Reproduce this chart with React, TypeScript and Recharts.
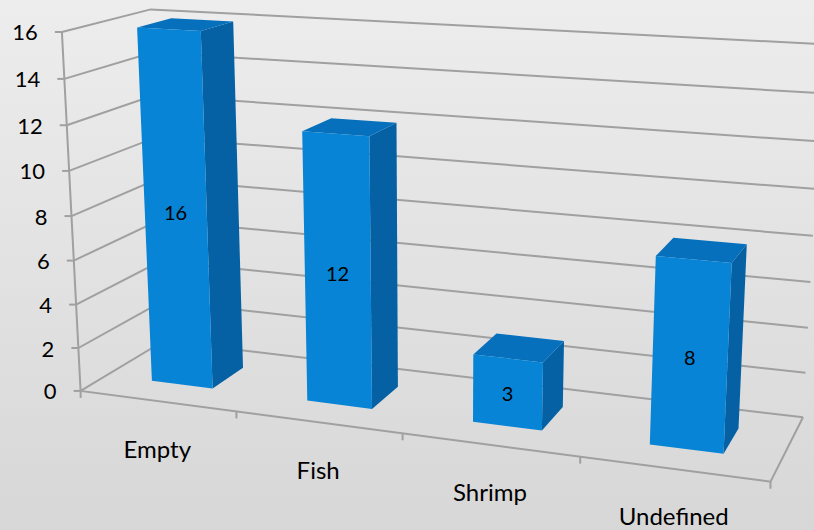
import { BarChart, Bar, XAxis, YAxis, CartesianGrid, LabelList } from "recharts";

const categories = ["Empty", "Fish", "Shrimp", "Undefined"];
const counts = [16, 12, 3, 8];
const yTicks = [0, 2, 4, 6, 8, 10, 12, 14, 16];

const data = categories.map((name, i) => ({ name, value: counts[i] }));

const W = 814;
const H = 530;
const MARGIN = { top: 10, right: 10, bottom: 10, left: 10 };
const YW = 20;
const XH = 20;
// flat plot box that recharts lays out, before the 3d view is applied
const PL = MARGIN.left + YW;
const PT = MARGIN.top;
const PW = W - MARGIN.left - MARGIN.right - YW;
const PH = H - MARGIN.top - MARGIN.bottom - XH;
// depth of the columns inside the floor (gap depth 150%)
const D0 = 0.3;
const D1 = 0.7;

// perspective view: (s across, t up, d into the page) -> screen
const VIEW = [
  593.689308, -21.853923, 97.235867, 80.631018,
  30.677198, -360.531143, -20.693948, 390.912516,
  -0.124816, -0.050126, 0.0856,
];

const proj = (s: number, t: number, d: number): [number, number] => {
  const m = VIEW;
  const w = m[8] * s + m[9] * t + m[10] * d + 1;
  return [(m[0] * s + m[1] * t + m[2] * d + m[3]) / w, (m[4] * s + m[5] * t + m[6] * d + m[7]) / w];
};

const toS = (x: number) => (x - PL) / PW;
const toT = (y: number) => (PT + PH - y) / PH;
const pts = (list: [number, number][]) => list.map((p) => p[0].toFixed(1) + "," + p[1].toFixed(1)).join(" ");

const GRID = "#a0a0a0";
const FONT = "Lato, 'Open Sans', sans-serif";

// each horizontal grid line runs along the side wall and then the back wall
const GridLine = (props: any) => {
  const t = toT(props.y1);
  const a = proj(0, t, 0);
  const b = proj(0, t, 1);
  const c = proj(1, t, 1);
  return (
    <g key={props.key}>
      <polyline points={pts([a, b, c])} fill="none" stroke={GRID} strokeWidth={2} />
    </g>
  );
};

const YTick = (props: any) => {
  const t = toT(props.y);
  const [x, y] = proj(0, t, 0);
  return (
    <g>
      <line x1={x - 7} y1={y} x2={x} y2={y} stroke={GRID} strokeWidth={2} />
      <text x={x - 24} y={y} textAnchor="end" dominantBaseline="central" fontSize={22} fontFamily={FONT} fill="#000">
        {props.payload.value}
      </text>
    </g>
  );
};

const XTick = (props: any) => {
  const band = 1 / categories.length;
  const s = toS(props.x);
  const [x, y] = proj(s, 0, 0);
  const left = proj(s - band / 2, 0, 0);
  const right = proj(s + band / 2, 0, 0);
  const last = props.index === categories.length - 1;
  return (
    <g>
      <line x1={left[0]} y1={left[1]} x2={left[0]} y2={left[1] + 7} stroke={GRID} strokeWidth={2} />
      {last && <line x1={right[0]} y1={right[1]} x2={right[0]} y2={right[1] + 7} stroke={GRID} strokeWidth={2} />}
      <text x={x} y={y + 47} textAnchor="middle" dominantBaseline="central" fontSize={24} fontFamily={FONT} fill="#000">
        {props.payload.value}
      </text>
    </g>
  );
};

const Frame = () => {
  const f0 = proj(0, 0, 0);
  const f1 = proj(1, 0, 0);
  const b1 = proj(1, 0, 1);
  const top = proj(0, 1, 0);
  return (
    <g>
      <polyline points={pts([top, f0, f1, b1])} fill="none" stroke={GRID} strokeWidth={2} />
    </g>
  );
};

const Box = (props: any) => {
  const { x, y, width, height } = props;
  if (!height) return null;
  const s0 = toS(x);
  const s1 = toS(x + width);
  const t = toT(y);
  const side = [proj(s1, 0, D0), proj(s1, 0, D1), proj(s1, t, D1), proj(s1, t, D0)] as [number, number][];
  const top = [proj(s0, t, D0), proj(s1, t, D0), proj(s1, t, D1), proj(s0, t, D1)] as [number, number][];
  const front = [proj(s0, 0, D0), proj(s1, 0, D0), proj(s1, t, D0), proj(s0, t, D0)] as [number, number][];
  return (
    <g>
      <polygon points={pts(side)} fill="#0561a3" />
      <polygon points={pts(top)} fill="#0670bd" />
      <polygon points={pts(front)} fill="#0784d5" />
    </g>
  );
};

const BarLabel = (props: any) => {
  const { x, y, width, value } = props;
  const s = toS(x + width / 2);
  const t = toT(y);
  const [cx, cy] = proj(s, t / 2, D0);
  return (
    <text x={cx} y={cy + 1} textAnchor="middle" dominantBaseline="central" fontSize={20} fontFamily={FONT} fill="#000">
      {value}
    </text>
  );
};

export default function App() {
  return (
    <div style={{ position: "absolute", left: 0, top: 0, width: W, height: H, background: "linear-gradient(#ededed, #d7d7d7)" }}>
      <BarChart width={W} height={H} data={data} margin={MARGIN} barCategoryGap="30%">
        <CartesianGrid vertical={false} horizontal={GridLine} />
        <YAxis domain={[0, 16]} ticks={yTicks} interval={0} width={YW} axisLine={false} tickLine={false} tick={YTick} />
        <XAxis dataKey="name" height={XH} axisLine={false} tickLine={false} tick={XTick} interval={0} />
        <Bar dataKey="value" shape={Box} isAnimationActive={false}>
          <LabelList dataKey="value" content={BarLabel} />
        </Bar>
        <Frame />
      </BarChart>
    </div>
  );
}
